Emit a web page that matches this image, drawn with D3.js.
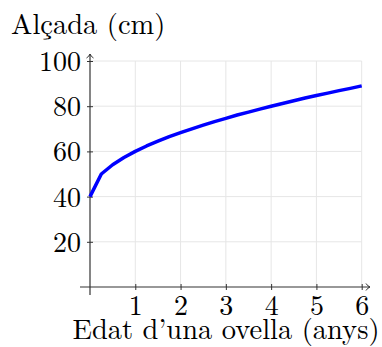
<!DOCTYPE html>
<meta charset="utf-8">
<script src="https://cdn.jsdelivr.net/npm/d3@7"></script>
<style>
body{margin:0;background:#fff;}
text{font-family:"Latin Modern Roman","Liberation Serif","DejaVu Serif",serif;fill:#000;}
</style>
<body>
<script>
// edat (anys) i alçada (cm)
var ages=[0,0.25,0.5,0.75,1,1.25,1.5,1.75,2,2.25,2.5,2.75,3,3.25,3.5,3.75,4,4.25,4.5,4.75,5,5.25,5.5,5.75,6];
var heights=[40,50,54.1,57.3,60,62.4,64.5,66.5,68.3,70,71.6,73.2,74.6,76.1,77.4,78.7,80,81.2,82.4,83.6,84.7,85.8,86.9,87.9,89];
var xTicks=[1,2,3,4,5,6];
var yTicks=[20,40,60,80,100];
var xTitle="Edat d\u2019una ovella (anys)";
var yTitle="Al\u00e7ada (cm)";

var svg=d3.select("body").append("svg").attr("width",382).attr("height",347);

var x=d3.scaleLinear().domain([0,6]).range([90,361.7]);
var y=d3.scaleLinear().domain([0,100]).range([287,61]);

// grid
svg.append("g").selectAll("line").data(xTicks).enter().append("line")
  .attr("x1",d=>x(d)).attr("x2",d=>x(d)).attr("y1",y(0)).attr("y2",y(100))
  .attr("stroke","#e6e6e6").attr("stroke-width",1);
svg.append("g").selectAll("line").data(yTicks).enter().append("line")
  .attr("x1",x(0)).attr("x2",x(6)).attr("y1",d=>y(d)).attr("y2",d=>y(d))
  .attr("stroke","#e6e6e6").attr("stroke-width",1);

// axes
var xaxis=d3.axisBottom(x).tickValues(xTicks).tickFormat(d3.format("d")).tickSizeInner(3).tickSizeOuter(0).tickPadding(5);
var yaxis=d3.axisLeft(y).tickValues(yTicks).tickFormat(d3.format("d")).tickSizeInner(3).tickSizeOuter(0).tickPadding(6);
var gx=svg.append("g").attr("transform","translate(0,"+y(0)+")").call(xaxis);
var gy=svg.append("g").attr("transform","translate("+x(0)+",0)").call(yaxis);
[gx,gy].forEach(function(g){
  g.select(".domain").remove();
  g.selectAll(".tick line").attr("stroke","#333").attr("stroke-width",1);
  g.selectAll("text").style("font-size","28px").attr("fill","#000")
    .style("font-family","'Latin Modern Roman','Liberation Serif','DejaVu Serif',serif");
});
gx.selectAll(".tick line").attr("y1",-3);
gy.selectAll(".tick line").attr("x1",3);
gx.selectAll("text").attr("dy","0.71em");
gy.selectAll("text").attr("dy","0.34em");

// axis lines with arrows
svg.append("line").attr("x1",x(0)-10).attr("x2",370).attr("y1",y(0)).attr("y2",y(0))
  .attr("stroke","#333").attr("stroke-width",1.2);
svg.append("path").attr("d","M366,"+(y(0)-3.5)+" Q368,"+(y(0)-0.5)+" 370,"+y(0)+" Q368,"+(y(0)+0.5)+" 366,"+(y(0)+3.5))
  .attr("fill","none").attr("stroke","#333").attr("stroke-width",1);
svg.append("line").attr("x1",x(0)).attr("x2",x(0)).attr("y1",y(0)+8).attr("y2",54)
  .attr("stroke","#333").attr("stroke-width",1.2);
svg.append("path").attr("d","M"+(x(0)-3.5)+",58 Q"+(x(0)-0.5)+",56 "+x(0)+",54 Q"+(x(0)+0.5)+",56 "+(x(0)+3.5)+",58")
  .attr("fill","none").attr("stroke","#333").attr("stroke-width",1);

// curve
var line=d3.line().x((d,i)=>x(ages[i])).y(d=>y(d));
svg.append("path").datum(heights).attr("d",line)
  .attr("fill","none").attr("stroke","#0000ff").attr("stroke-width",3.5).attr("stroke-linejoin","round");

// titles
svg.append("text").attr("x",11).attr("y",34).style("font-size","28.5px").text(yTitle);
svg.append("text").attr("x",226).attr("y",339).attr("text-anchor","middle").style("font-size","28.5px").text(xTitle);
</script>
</body>
</html>
